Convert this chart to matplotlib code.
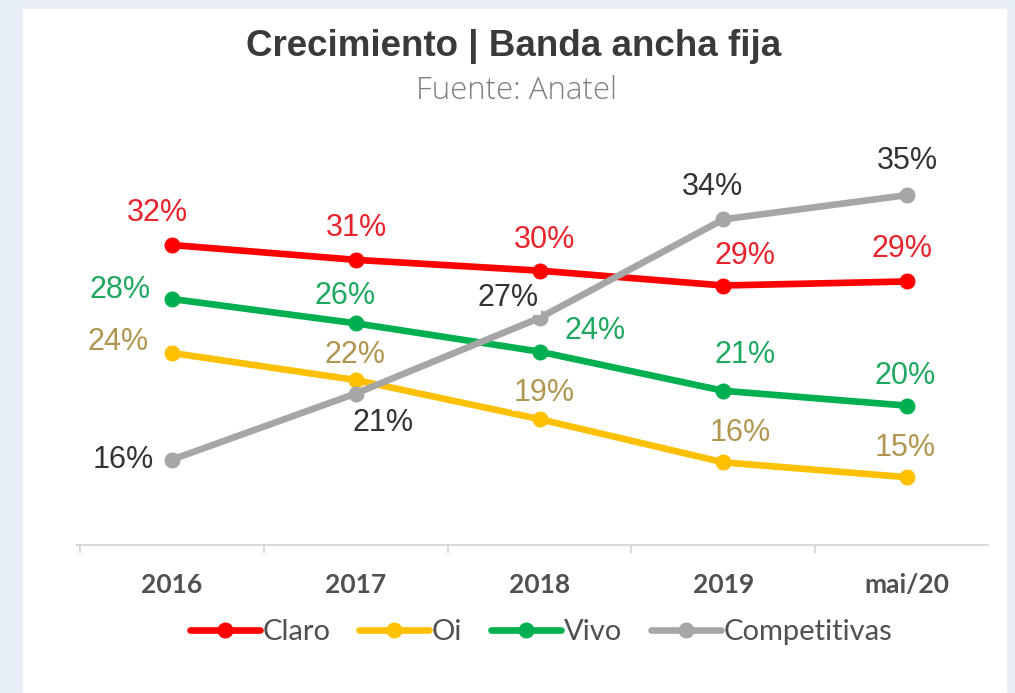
import matplotlib.pyplot as plt
from matplotlib.patches import Rectangle

# data
categories = ['2016', '2017', '2018', '2019', 'mai/20']
claro = [32.0, 30.9, 30.1, 29.0, 29.3]
oi = [24.0, 22.0, 19.1, 15.9, 14.8]
vivo = [28.0, 26.2, 24.1, 21.2, 20.1]
competitivas = [16.1, 21.0, 26.6, 33.9, 35.7]

claro_labels = ['32%', '31%', '30%', '29%', '29%']
oi_labels = ['24%', '22%', '19%', '16%', '15%']
vivo_labels = ['28%', '26%', '24%', '21%', '20%']
comp_labels = ['16%', '21%', '27%', '34%', '35%']

# label offsets (pixels, x right / y down) for each point
claro_off = [(-15, -32), (1, -32), (5, -31), (22, -30), (-5, -32)]
oi_off = [(-54, -11), (-1, -25), (5, -26), (17, -29), (-2, -29)]
vivo_off = [(-52, -9), (-11, -27), (55, -21), (22, -36), (-2, -30)]
comp_off = [(-49, 0), (27, 29), (-32, -20), (-11, -32), (0, -34)]

series = [
    ('Claro', claro, claro_labels, claro_off, '#ff0000', '#e8232b', 2),
    ('Oi', oi, oi_labels, oi_off, '#ffc000', '#b09650', 2),
    ('Vivo', vivo, vivo_labels, vivo_off, '#00b050', '#1fa860', 2),
    ('Competitivas', competitivas, comp_labels, comp_off, '#a6a6a6', '#333333', 3),
]


def main():
    fig = plt.figure(figsize=(10.15, 6.93), dpi=100, facecolor='#e8eef8')
    card = Rectangle((22 / 1015, 0), 985 / 1015, 685 / 693, transform=fig.transFigure,
                     facecolor='white', edgecolor='#f0f2f6', linewidth=1, zorder=-5)
    fig.patches.append(card)

    ax = fig.add_axes([77 / 1015, 1 - 545 / 693, 911 / 1015, 395 / 693])
    ax.set_zorder(2)
    ax.set_facecolor('none')
    x = list(range(len(categories)))

    for name, vals, labels, offs, col, lcol, z in series:
        ax.plot(x, vals, color=col, linewidth=4.8, marker='o', markersize=10.5,
                label=name, zorder=z, solid_capstyle='round')
        for xi, v, lab, (dx, dy) in zip(x, vals, labels, offs):
            ax.annotate(lab, (xi, v), xytext=(dx * 0.72, -dy * 0.72), textcoords='offset points',
                        ha='center', va='center', fontsize=22, color=lcol,
                        family='Liberation Sans', zorder=5,
                        bbox=dict(boxstyle='square,pad=0.08', fc='white', ec='none', alpha=0.9))

    ax.set_xlim(-0.517, 4.44)
    ax.set_ylim((677 - 545) / 13.5, (677 - 150) / 13.5)
    for s in ['top', 'right', 'left']:
        ax.spines[s].set_visible(False)
    ax.spines['bottom'].set_color('#d9d9d9')
    ax.spines['bottom'].set_linewidth(1.5)
    ax.set_yticks([])
    ax.set_xticks(x)
    ax.set_xticklabels(categories, fontsize=19, color='#505050', family='Lato', fontweight='bold')
    ax.tick_params(axis='x', which='major', length=0, pad=20)
    ax.set_xticks([-0.5, 0.5, 1.5, 2.5, 3.5], minor=True)
    ax.tick_params(axis='x', which='minor', length=6, width=1.5, color='#d9d9d9')

    fig.text(514 / 1015, 1 - 46 / 693, 'Crecimiento | Banda ancha fija', ha='center', va='center',
             fontsize=26.5, fontweight='bold', color='#3a3a3a', family='Liberation Sans')
    fig.text(516 / 1015, 1 - 91 / 693, 'Fuente: Anatel', ha='center', va='center',
             fontsize=22.5, fontweight='light', color='#808080', family='Open Sans')

    leg = fig.legend(loc='center', bbox_to_anchor=(541 / 1015, 1 - 632 / 693), ncol=4,
                     frameon=False, handlelength=2.4, handletextpad=0.08, columnspacing=1.0,
                     prop={'family': 'Lato', 'size': 21})
    for t in leg.get_texts():
        t.set_color('#505050')

    plt.savefig('out.png', dpi=100, facecolor=fig.get_facecolor())


if __name__ == '__main__':
    main()
